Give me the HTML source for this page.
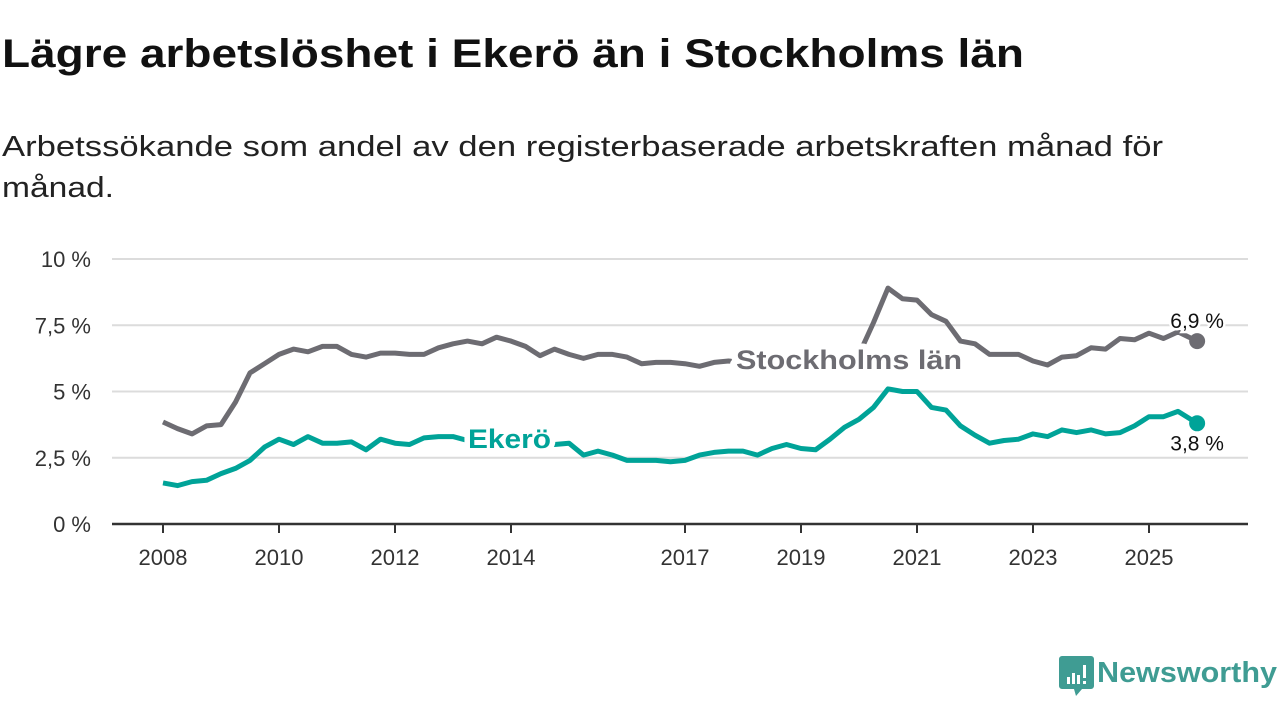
<!DOCTYPE html>
<html><head><meta charset="utf-8"><style>
html,body{margin:0;padding:0;background:#fff;width:1280px;height:720px;overflow:hidden}
svg{display:block;font-family:"Liberation Sans",sans-serif}
</style></head><body>
<svg id="chart" width="1280" height="720">
<text x="2" y="67" font-size="40" font-weight="bold" fill="#111" textLength="1022" lengthAdjust="spacingAndGlyphs">Lägre arbetslöshet i Ekerö än i Stockholms län</text>
<text x="2" y="156" font-size="29" fill="#222" textLength="1161" lengthAdjust="spacingAndGlyphs">Arbetssökande som andel av den registerbaserade arbetskraften månad för</text>
<text x="2" y="197" font-size="29" fill="#222" textLength="112" lengthAdjust="spacingAndGlyphs">månad.</text>
<g id="grid"></g><g id="axes"></g><g id="series"></g><g id="labels"></g>
<g>
<path d="M1062 656 h29 a3 3 0 0 1 3 3 v27 a3 3 0 0 1 -3 3 h-9 l-6 7 l-2 -7 h-12 a3 3 0 0 1 -3 -3 v-27 a3 3 0 0 1 3 -3z" fill="#3f9c93"/>
<rect x="1067" y="677" width="3" height="7" fill="#fff"/><rect x="1072" y="673" width="3" height="11" fill="#fff"/><rect x="1077" y="675" width="3" height="9" fill="#fff"/><rect x="1083" y="665" width="3" height="13" fill="#fff"/><rect x="1083" y="681" width="3" height="3" fill="#fff"/>
<text x="1097" y="682" font-size="29" font-weight="bold" fill="#3f9c93" textLength="180" lengthAdjust="spacingAndGlyphs">Newsworthy</text>
</g>
</svg>
<script>
const dates = [2008,2008.25,2008.5,2008.75,2009,2009.25,2009.5,2009.75,2010,2010.25,2010.5,2010.75,2011,2011.25,2011.5,2011.75,2012,2012.25,2012.5,2012.75,2013,2013.25,2013.5,2013.75,2014,2014.25,2014.5,2014.75,2015,2015.25,2015.5,2015.75,2016,2016.25,2016.5,2016.75,2017,2017.25,2017.5,2017.75,2018,2018.25,2018.5,2018.75,2019,2019.25,2019.5,2019.75,2020,2020.25,2020.5,2020.75,2021,2021.25,2021.5,2021.75,2022,2022.25,2022.5,2022.75,2023,2023.25,2023.5,2023.75,2024,2024.25,2024.5,2024.75,2025,2025.25,2025.5,2025.83];
const stockholm = [3.85,3.6,3.4,3.7,3.75,4.6,5.7,6.05,6.4,6.6,6.5,6.7,6.7,6.4,6.3,6.45,6.45,6.4,6.4,6.65,6.8,6.9,6.8,7.05,6.9,6.7,6.35,6.6,6.4,6.25,6.4,6.4,6.3,6.05,6.1,6.1,6.05,5.95,6.1,6.15,6.1,6.0,5.9,5.95,6.0,6.1,6.2,6.3,6.4,7.6,8.9,8.5,8.45,7.9,7.65,6.9,6.8,6.4,6.4,6.4,6.15,6.0,6.3,6.35,6.65,6.6,7.0,6.95,7.2,7.0,7.25,6.9];
const ekero = [1.55,1.45,1.6,1.65,1.9,2.1,2.4,2.9,3.2,3.0,3.3,3.05,3.05,3.1,2.8,3.2,3.05,3.0,3.25,3.3,3.3,3.15,3.0,3.0,3.0,3.0,3.0,3.0,3.05,2.6,2.75,2.6,2.4,2.4,2.4,2.35,2.4,2.6,2.7,2.75,2.75,2.6,2.85,3.0,2.85,2.8,3.2,3.65,3.95,4.4,5.1,5.0,5.0,4.4,4.3,3.7,3.35,3.05,3.15,3.2,3.4,3.3,3.55,3.45,3.55,3.4,3.45,3.7,4.05,4.05,4.25,3.8];
const yTicks = [0,2.5,5,7.5,10];
const yTickLabels = ["0 %","2,5 %","5 %","7,5 %","10 %"];
const xTicks = [2008,2010,2012,2014,2017,2019,2021,2023,2025];
const NS="http://www.w3.org/2000/svg";
const X = d => 163 + (d-2008)*58;
const Y = v => 524 - v*26.5;
function mk(tag, attrs, parent, txt){const e=document.createElementNS(NS,tag);for(const k in attrs)e.setAttribute(k,attrs[k]);if(txt!==undefined)e.textContent=txt;document.getElementById(parent).appendChild(e);return e;}
yTicks.forEach((t,i)=>{
  if(t>0){const g=mk('line',{x1:112,x2:1248,y1:Y(t),y2:Y(t),stroke:'#dcdcdc','stroke-width':2},'grid');
  
  }
  const l=mk('text',{x:91,y:Y(t)+8,'font-size':22,fill:'#333','text-anchor':'end'},'axes',yTickLabels[i]);
  
  
});
const ax=mk('line',{x1:112,x2:1248,y1:524,y2:524,stroke:'#333','stroke-width':2.5},'axes');


xTicks.forEach(t=>{
  const tk=mk('line',{x1:X(t),x2:X(t),y1:524,y2:533,stroke:'#333','stroke-width':2},'axes');
  
  
  const l=mk('text',{x:X(t),y:565,'font-size':22,fill:'#333','text-anchor':'middle'},'axes',String(t));
  
  
});
function line(vals,color,name){
  const d=vals.map((v,i)=>(i?'L':'M')+X(dates[i]).toFixed(1)+' '+Y(v).toFixed(1)).join(' ');
  const p=mk('path',{d:d,fill:'none',stroke:color,'stroke-width':5,'stroke-linejoin':'round'},'series');
  
  
  const n=vals.length-1;
  const c=mk('circle',{cx:X(dates[n]),cy:Y(vals[n]),r:8,fill:color},'series');
  
  
}
line(stockholm,'#6d6c72','stockholm-line');
line(ekero,'#00a398','ekero-line');
const s=mk('text',{x:736,y:369,'font-size':27,'font-weight':'bold',fill:'#6d6c72',stroke:'#fff','stroke-width':12,'paint-order':'stroke','stroke-linejoin':'round',textLength:226,lengthAdjust:'spacingAndGlyphs'},'labels','Stockholms län');


const e=mk('text',{x:468,y:448,'font-size':27,'font-weight':'bold',fill:'#00a398',stroke:'#fff','stroke-width':10,'paint-order':'stroke','stroke-linejoin':'round',textLength:83,lengthAdjust:'spacingAndGlyphs'},'labels','Ekerö');


const n=stockholm.length-1;
const v1=mk('text',{x:X(dates[n]),y:Y(stockholm[n])-13,'font-size':21,fill:'#111','text-anchor':'middle',stroke:'#fff','stroke-width':5,'paint-order':'stroke'},'labels',String(stockholm[n].toFixed(1)).replace('.',',')+' %');


const v2=mk('text',{x:X(dates[n]),y:Y(ekero[n])+27,'font-size':21,fill:'#111','text-anchor':'middle',stroke:'#fff','stroke-width':5,'paint-order':'stroke'},'labels',String(ekero[n].toFixed(1)).replace('.',',')+' %');


</script>
</body></html>
